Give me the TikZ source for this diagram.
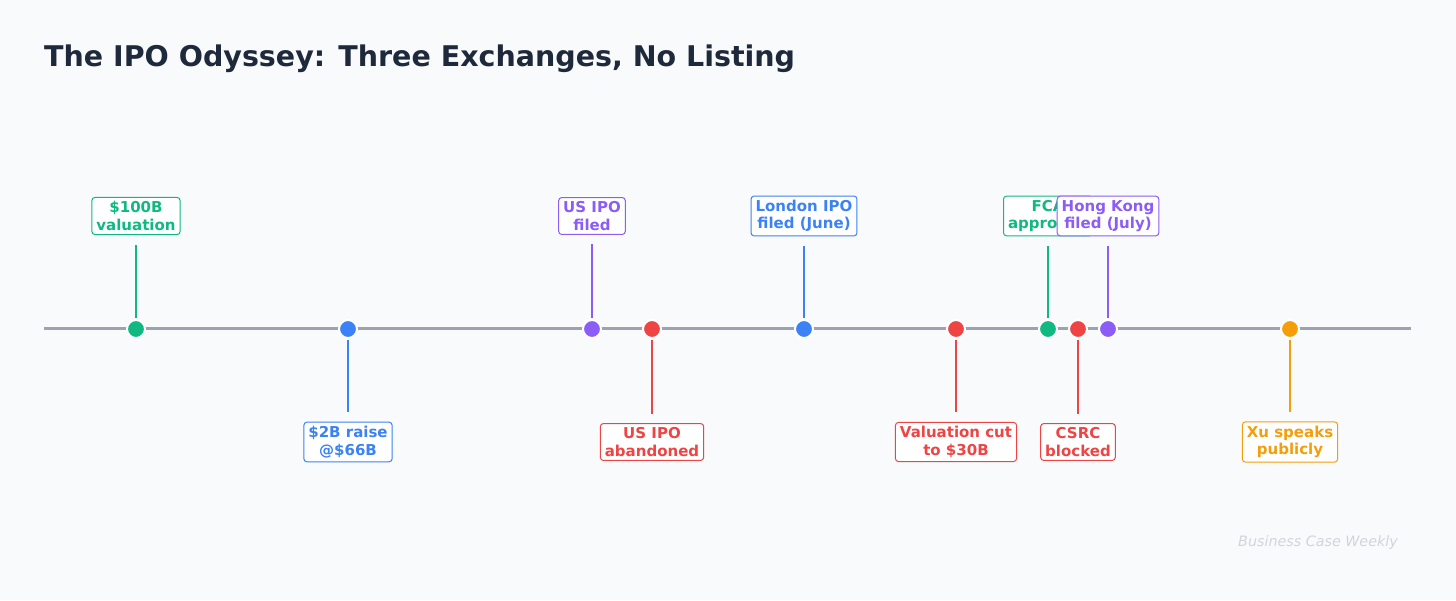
\documentclass[tikz,border=0pt]{standalone}
\usepackage{fontspec}
\setmainfont{DejaVu Sans}
\definecolor{bg}{HTML}{F8FAFC}
\definecolor{axisc}{HTML}{9CA3AF}
\definecolor{cgreen}{HTML}{10B981}
\definecolor{cblue}{HTML}{3B82F6}
\definecolor{cpurple}{HTML}{8B5CF6}
\definecolor{cred}{HTML}{EF4444}
\definecolor{corange}{HTML}{F59E0B}
\definecolor{ctitle}{HTML}{1E293B}
\definecolor{cmark}{HTML}{D1D5DB}
\tikzset{
  dot/.style={circle, fill=#1, draw=white, line width=2pt, minimum size=18pt, inner sep=0pt},
  lbl/.style={draw=#1, text=#1, fill=white, line width=1pt, rounded corners=3pt, align=center,
    font=\fontsize{15}{17.5}\selectfont\bfseries, inner xsep=4.5pt, inner ysep=4pt},
  stem/.style={draw=#1, line width=2pt, shorten <=1pt, shorten >=9.5pt},
}
\begin{document}
\begin{tikzpicture}[x=1pt,y=1pt]
\fill[bg] (0,0) rectangle (1456,600);
\useasboundingbox (0,0) rectangle (1456,600);
\node[anchor=west, text=ctitle, font=\fontsize{28.5}{32}\selectfont\bfseries, inner sep=0pt] (title) at (44,541) {The IPO Odyssey: Three Exchanges, No Listing};
\draw[axisc, line width=3pt] (44,271) -- (1411,271);
% dots
\node[dot=cgreen] (d1) at (136,271) {};
\node[dot=cblue] (d2) at (348,271) {};
\node[dot=cpurple] (d3) at (592,271) {};
\node[dot=cred] (d4) at (652,271) {};
\node[dot=cblue] (d5) at (804,271) {};
\node[dot=cred] (d6) at (956,271) {};
\node[dot=cgreen] (d7) at (1048,271) {};
\node[dot=cred] (d8) at (1078,271) {};
\node[dot=cpurple] (d9) at (1108,271) {};
\node[dot=corange] (d10) at (1290,271) {};
% labels
\node[lbl=cgreen] (l1) at (136,384) {\$100B\\valuation};
\node[lbl=cblue] (l2) at (348,158) {\$2B raise\\@\$66B};
\node[lbl=cpurple] (l3) at (592,384) {US IPO\\filed};
\node[lbl=cred] (l4) at (652,158) {US IPO\\abandoned};
\node[lbl=cblue] (l5) at (804,384) {London IPO\\filed (June)};
\node[lbl=cred] (l6) at (956,158) {Valuation cut\\to \$30B};
\node[lbl=cgreen] (l7) at (1048,384) {FCA\\approved};
\node[lbl=cred] (l8) at (1078,158) {CSRC\\blocked};
\node[lbl=cpurple] (l9) at (1108,384) {Hong Kong\\filed (July)};
\node[lbl=corange] (l10) at (1290,158) {Xu speaks\\publicly};
% stems
\draw[stem=cgreen] (d1) -- (l1);
\draw[stem=cblue] (d2) -- (l2);
\draw[stem=cpurple] (d3) -- (l3);
\draw[stem=cred] (d4) -- (l4);
\draw[stem=cblue] (d5) -- (l5);
\draw[stem=cred] (d6) -- (l6);
\draw[stem=cgreen] (d7) -- (l7);
\draw[stem=cred] (d8) -- (l8);
\draw[stem=cpurple] (d9) -- (l9);
\draw[stem=corange] (d10) -- (l10);
\node[text=cmark, font=\fontsize{14.3}{17}\selectfont\itshape] (mark) at (1318,57) {Business Case Weekly};
\end{tikzpicture}
\end{document}
